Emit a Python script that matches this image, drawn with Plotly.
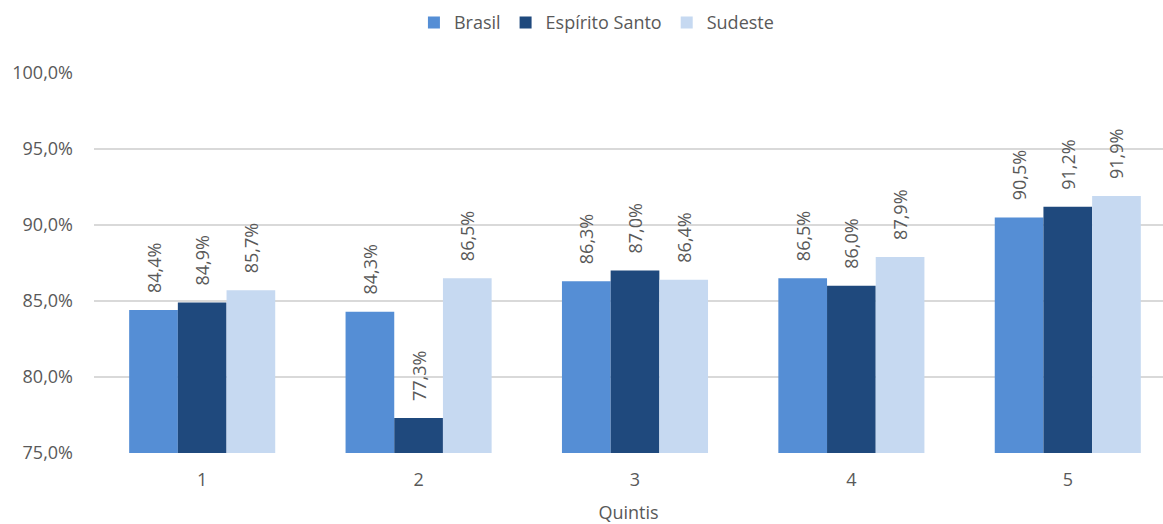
import plotly.graph_objects as go

categories = ["1", "2", "3", "4", "5"]
brasil = [84.4, 84.3, 86.3, 86.5, 90.5]
espirito_santo = [84.9, 77.3, 87.0, 86.0, 91.2]
sudeste = [85.7, 86.5, 86.4, 87.9, 91.9]
y_ticks = [75, 80, 85, 90, 95, 100]

series = [
    ("Brasil", brasil, "#558ED5"),
    ("Espírito Santo", espirito_santo, "#1F497D"),
    ("Sudeste", sudeste, "#C6D9F1"),
]

font_family = "Open Sans, Liberation Sans, sans-serif"
txt_color = "#595959"
fs = 18
pad = "\u00a0\u00a0\u00a0"

fig = go.Figure()
for name, vals, color in series:
    fig.add_trace(go.Bar(
        x=categories, y=vals, name=name,
        marker=dict(color=color, line=dict(width=0)),
        text=[pad + f"{v:.1f}%".replace(".", ",") for v in vals],
        textposition="outside", textangle=-90, constraintext="none",
        textfont=dict(family=font_family, size=fs, color=txt_color),
        cliponaxis=False,
    ))

fig.update_layout(
    width=1163, height=524,
    margin=dict(l=94, r=0, t=73, b=71, autoexpand=False),
    barmode="group", bargap=0.325, bargroupgap=0,
    plot_bgcolor="white", paper_bgcolor="white",
    font=dict(family=font_family, size=fs, color=txt_color),
    separators=",.",
    legend=dict(orientation="h", x=0.47, xanchor="center", y=0.992, yanchor="top",
                yref="container", font=dict(size=fs, color=txt_color),
                traceorder="normal"),
    xaxis=dict(
        range=[-0.5, 4.44], showgrid=False, ticks="", showline=False,
        ticklabelstandoff=14,
        title=dict(text="Quintis", standoff=16, font=dict(size=fs, color=txt_color)),
        tickfont=dict(size=fs, color=txt_color),
    ),
    yaxis=dict(
        range=[75, 100], tickvals=y_ticks,
        ticktext=[f"{v:.1f}%".replace(".", ",") for v in y_ticks],
        showgrid=True, gridcolor="#D9D9D9", gridwidth=1.5,
        zeroline=False, showline=False, ticks="",
        ticklabelstandoff=20,
        tickfont=dict(size=fs, color=txt_color),
    ),
)

fig.write_html("out.html", config={"displayModeBar": False},
               post_script="document.body.style.margin='0';")
